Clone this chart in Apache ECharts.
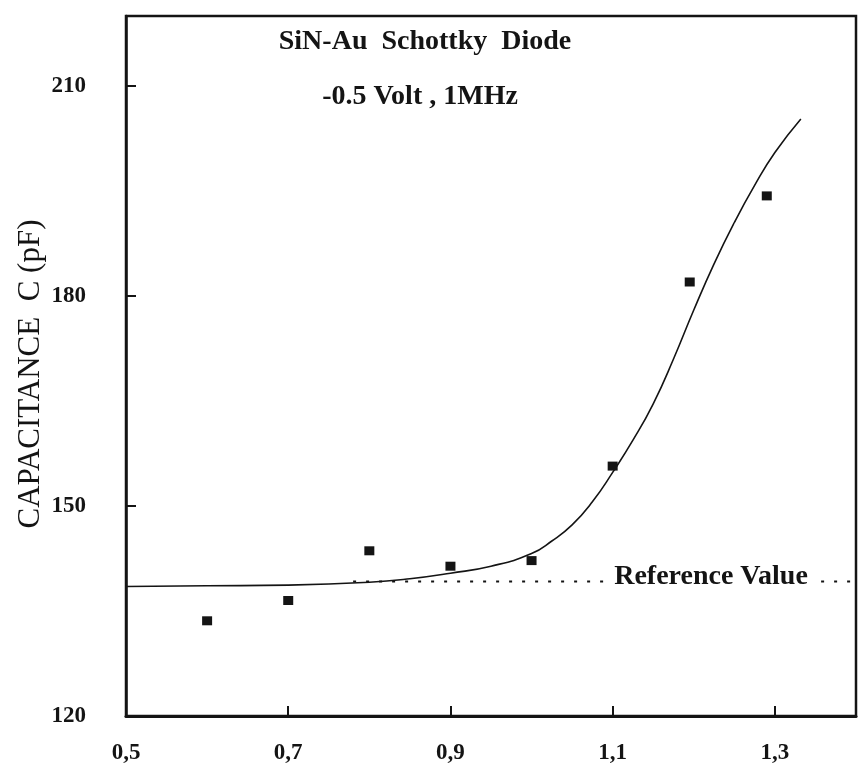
<!DOCTYPE html>
<html>
<head>
<meta charset="utf-8">
<script src="https://cdn.jsdelivr.net/npm/echarts@6/dist/echarts.min.js"></script>
<style>
html,body{margin:0;padding:0;background:#fff;}
#c{width:858px;height:771px;}
</style>
</head>
<body>
<div id="c"></div>
<script>
// Measured points
const measX = [0.60, 0.70, 0.80, 0.90, 1.00, 1.10, 1.195, 1.29];
const measY = [133.6, 136.5, 143.6, 141.4, 142.2, 155.7, 182.0, 194.3];
// Fitted curve
const fitX = [0.5, 0.6, 0.7, 0.8, 0.85, 0.9, 0.95, 1.0, 1.025, 1.05, 1.075, 1.1, 1.125, 1.15, 1.175, 1.2, 1.225, 1.25, 1.275, 1.3, 1.332];
const fitY = [138.5, 138.6, 138.7, 139.1, 139.6, 140.4, 141.4, 143.2, 145.0, 147.3, 150.6, 154.8, 159.4, 164.6, 171.0, 178.0, 184.6, 190.5, 195.8, 200.5, 205.3];
// Reference value line
const refValue = 139.2;
const refRange = [0.78, 1.4];
// Axis ticks
const xTicks = [0.5, 0.7, 0.9, 1.1, 1.3];
const yTicks = [120, 150, 180, 210];

const FONT = 'Liberation Serif';
const INK = '#141414';

const chart = echarts.init(document.getElementById('c'), null, {renderer: 'canvas'});
chart.setOption({
  backgroundColor: '#ffffff',
  animation: false,
  grid: {left: 126, right: 2, top: 16, bottom: 55, show: true, borderColor: INK, borderWidth: 2.5, backgroundColor: 'transparent'},
  xAxis: {
    type: 'value', min: 0.5, max: 1.4,
    axisLine: {show: true, lineStyle: {color: INK, width: 3}},
    axisTick: {show: true, inside: true, length: 10, lineStyle: {color: INK, width: 2}, customValues: xTicks.slice(1)},
    axisLabel: {show: true, customValues: xTicks, margin: 26, color: INK, fontFamily: FONT, fontWeight: 'bold', fontSize: 23,
      formatter: v => String(Math.round(v * 10) / 10).replace('.', ',')},
    splitLine: {show: false}
  },
  yAxis: {
    type: 'value', min: 120, max: 220,
    axisLine: {show: true, lineStyle: {color: INK, width: 2.5}},
    axisTick: {show: true, inside: true, length: 10, lineStyle: {color: INK, width: 2}, customValues: yTicks.slice(1)},
    axisLabel: {show: true, customValues: yTicks, margin: 40, color: INK, fontFamily: FONT, fontWeight: 'bold', fontSize: 23},
    splitLine: {show: false}
  },
  series: [
    {
      type: 'line', name: 'ref', data: refRange.map(x => [x, refValue]),
      symbol: 'none', lineStyle: {color: INK, width: 2, type: [3, 10]}, z: 1
    },
    {
      type: 'line', name: 'fit', data: fitX.map((x, i) => [x, fitY[i]]),
      smooth: 0.5, symbol: 'none', lineStyle: {color: INK, width: 1.6}, z: 3
    },
    {
      type: 'scatter', name: 'meas', data: measX.map((x, i) => [x, measY[i]]),
      symbol: 'rect', symbolSize: [10, 9], itemStyle: {color: INK, opacity: 1}, z: 4
    }
  ],
  graphic: [
    {type: 'text', x: 425, y: 42, style: {text: 'SiN-Au  Schottky  Diode', font: 'bold 28px "Liberation Serif"', fill: INK, align: 'center', verticalAlign: 'middle'}, z: 10},
    {type: 'text', x: 420, y: 97, style: {text: '-0.5 Volt , 1MHz', font: 'bold 28px "Liberation Serif"', fill: INK, align: 'center', verticalAlign: 'middle'}, z: 10},
    {type: 'text', x: 31, y: 374, rotation: Math.PI / 2, style: {text: 'CAPACITANCE  C (pF)', font: '31px "Liberation Serif"', fill: INK, align: 'center', verticalAlign: 'middle'}, z: 10},
    {type: 'text', x: 711, y: 577, style: {text: 'Reference Value', font: 'bold 28px "Liberation Serif"', fill: INK, align: 'center', verticalAlign: 'middle', backgroundColor: '#ffffff', padding: [0, 7]}, z: 10}
  ]
});
</script>
</body>
</html>
